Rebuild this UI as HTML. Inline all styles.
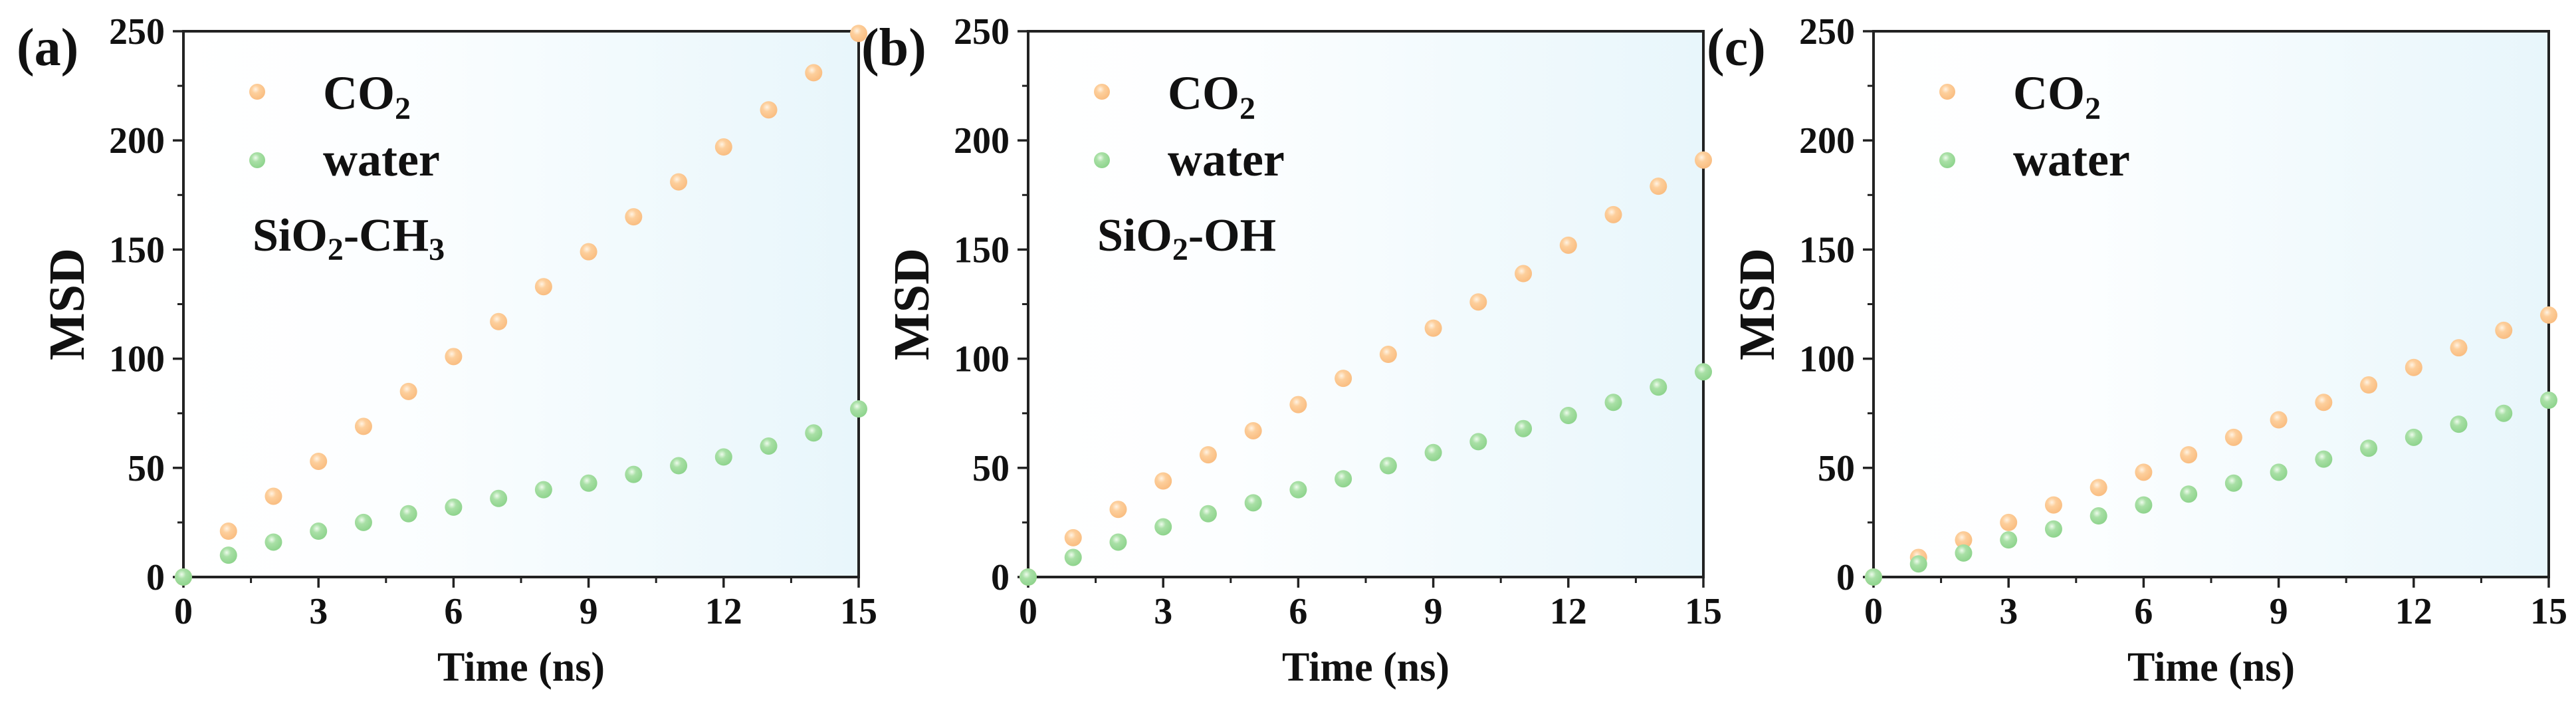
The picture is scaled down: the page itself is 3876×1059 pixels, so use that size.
<!DOCTYPE html>
<html><head><meta charset="utf-8"><style>
html,body{margin:0;padding:0;background:#fff;}
svg{display:block;font-family:"Liberation Serif",serif;font-weight:bold;}
</style></head><body>
<svg id="fig" width="3876" height="1059" viewBox="0 0 3876 1059" xmlns="http://www.w3.org/2000/svg">
<defs>
<linearGradient id="bg" x1="0" y1="0" x2="1" y2="0">
<stop offset="0" stop-color="#ffffff"/><stop offset="0.3" stop-color="#fcfeff"/><stop offset="1" stop-color="#e8f6fb"/>
</linearGradient>
<radialGradient id="gO" cx="0.4" cy="0.35" r="0.7">
<stop offset="0" stop-color="#fff3e3"/><stop offset="0.35" stop-color="#fdcf9c"/><stop offset="1" stop-color="#f9bb7e"/>
</radialGradient>
<radialGradient id="gG" cx="0.4" cy="0.35" r="0.7">
<stop offset="0" stop-color="#eefbec"/><stop offset="0.35" stop-color="#a9e0a6"/><stop offset="1" stop-color="#8bd28a"/>
</radialGradient>
</defs>
</svg>
<script>
const times = [0,1,2,3,4,5,6,7,8,9,10,11,12,13,14,15];
const co2A = [0,21,37,53,69,85,101,117,133,149,165,181,197,214,231,249];
const waterA = [0,10,16,21,25,29,32,36,40,43,47,51,55,60,66,77];
const co2B = [0,18,31,44,56,67,79,91,102,114,126,139,152,166,179,191];
const waterB = [0,9,16,23,29,34,40,45,51,57,62,68,74,80,87,94];
const co2C = [0,9,17,25,33,41,48,56,64,72,80,88,96,105,113,120];
const waterC = [0,6,11,17,22,28,33,38,43,48,54,59,64,70,75,81];
const xTicks = [0,3,6,9,12,15];
const yTicks = [0,50,100,150,200,250];
const panelLabels = ["(a)","(b)","(c)"];

const NS = "http://www.w3.org/2000/svg";
const svg = document.getElementById("fig");
function mk(tag, attrs, parent){const e=document.createElementNS(NS,tag);for(const k in attrs)e.setAttribute(k,attrs[k]);(parent||svg).appendChild(e);return e;}

const panels = [
 {left:276, co2:co2A, water:waterA, label:panelLabels[0], sub:"CH"},
 {left:1547, co2:co2B, water:waterB, label:panelLabels[1], sub:"OH"},
 {left:2819, co2:co2C, water:waterC, label:panelLabels[2], sub:null}
];
const W=1016, TOP=47, BOT=868;

panels.forEach((p,pi)=>{
 const g = mk("g",{});
 
 
 const L=p.left, R=L+W;
 const xs = v => L + v/15*W;
 const ys = v => BOT - v/250*(BOT-TOP);
 mk("rect",{x:L,y:TOP,width:W,height:BOT-TOP,fill:"url(#bg)"},g);
 for(let v=25; v<250; v+=50){mk("line",{x1:L-9,x2:L,y1:ys(v),y2:ys(v),stroke:"#222","stroke-width":3},g);}
 for(let v=1.5; v<15; v+=3){mk("line",{x1:xs(v),x2:xs(v),y1:BOT,y2:BOT+9,stroke:"#222","stroke-width":3},g);}
 yTicks.forEach(v=>{
  mk("line",{x1:L-16,x2:L,y1:ys(v),y2:ys(v),stroke:"#222","stroke-width":3.5},g);
  const t=mk("text",{x:L-28,y:ys(v)+19,"text-anchor":"end","font-size":56,fill:"#111"},g);
  t.textContent=v;
  
  
 });
 xTicks.forEach(v=>{
  mk("line",{x1:xs(v),x2:xs(v),y1:BOT,y2:BOT+16,stroke:"#222","stroke-width":3.5},g);
  const t=mk("text",{x:xs(v),y:938,"text-anchor":"middle","font-size":56,fill:"#111"},g);
  t.textContent=v;
  
  
 });
 mk("rect",{x:L,y:TOP,width:W,height:BOT-TOP,fill:"none",stroke:"#222","stroke-width":4},g);
 const xt=mk("text",{x:L+W/2,y:1024,"text-anchor":"middle","font-size":62,fill:"#111"},g);
 xt.textContent="Time (ns)";
 
 
 const yt=mk("text",{x:0,y:0,"text-anchor":"middle","font-size":76,fill:"#111",transform:`translate(${L-150},${(TOP+BOT)/2}) rotate(-90)`},g);
 yt.textContent="MSD";
 
 
 const pl=mk("text",{x:L-251,y:98,"font-size":80,fill:"#111"},g);
 pl.textContent=p.label;
 
 
 mk("circle",{cx:L+111,cy:138,r:12,fill:"url(#gO)"},g);
 const l1=mk("text",{x:L+210,y:164,"font-size":72,fill:"#111"},g);
 l1.innerHTML='CO<tspan font-size="48" dy="15">2</tspan>';
 
 
 mk("circle",{cx:L+111,cy:241,r:12,fill:"url(#gG)"},g);
 const l2=mk("text",{x:L+210,y:264,"font-size":72,fill:"#111"},g);
 l2.textContent="water";
 
 
 if(p.sub){
  const s=mk("text",{x:L+104,y:377,"font-size":70,fill:"#111"},g);
  if(p.sub==="CH") s.innerHTML='SiO<tspan font-size="48" dy="14">2</tspan><tspan dy="-14">-CH</tspan><tspan font-size="48" dy="14">3</tspan>';
  else s.innerHTML='SiO<tspan font-size="48" dy="14">2</tspan><tspan dy="-14">-OH</tspan>';
  
  
 }
 times.forEach((t,i)=>{
  const c=mk("circle",{cx:xs(t),cy:ys(p.co2[i]),r:13,fill:"url(#gO)"},g);
  
  
 });
 times.forEach((t,i)=>{
  const c=mk("circle",{cx:xs(t),cy:ys(p.water[i]),r:13,fill:"url(#gG)"},g);
  
  
 });
});
</script>
</body></html>
